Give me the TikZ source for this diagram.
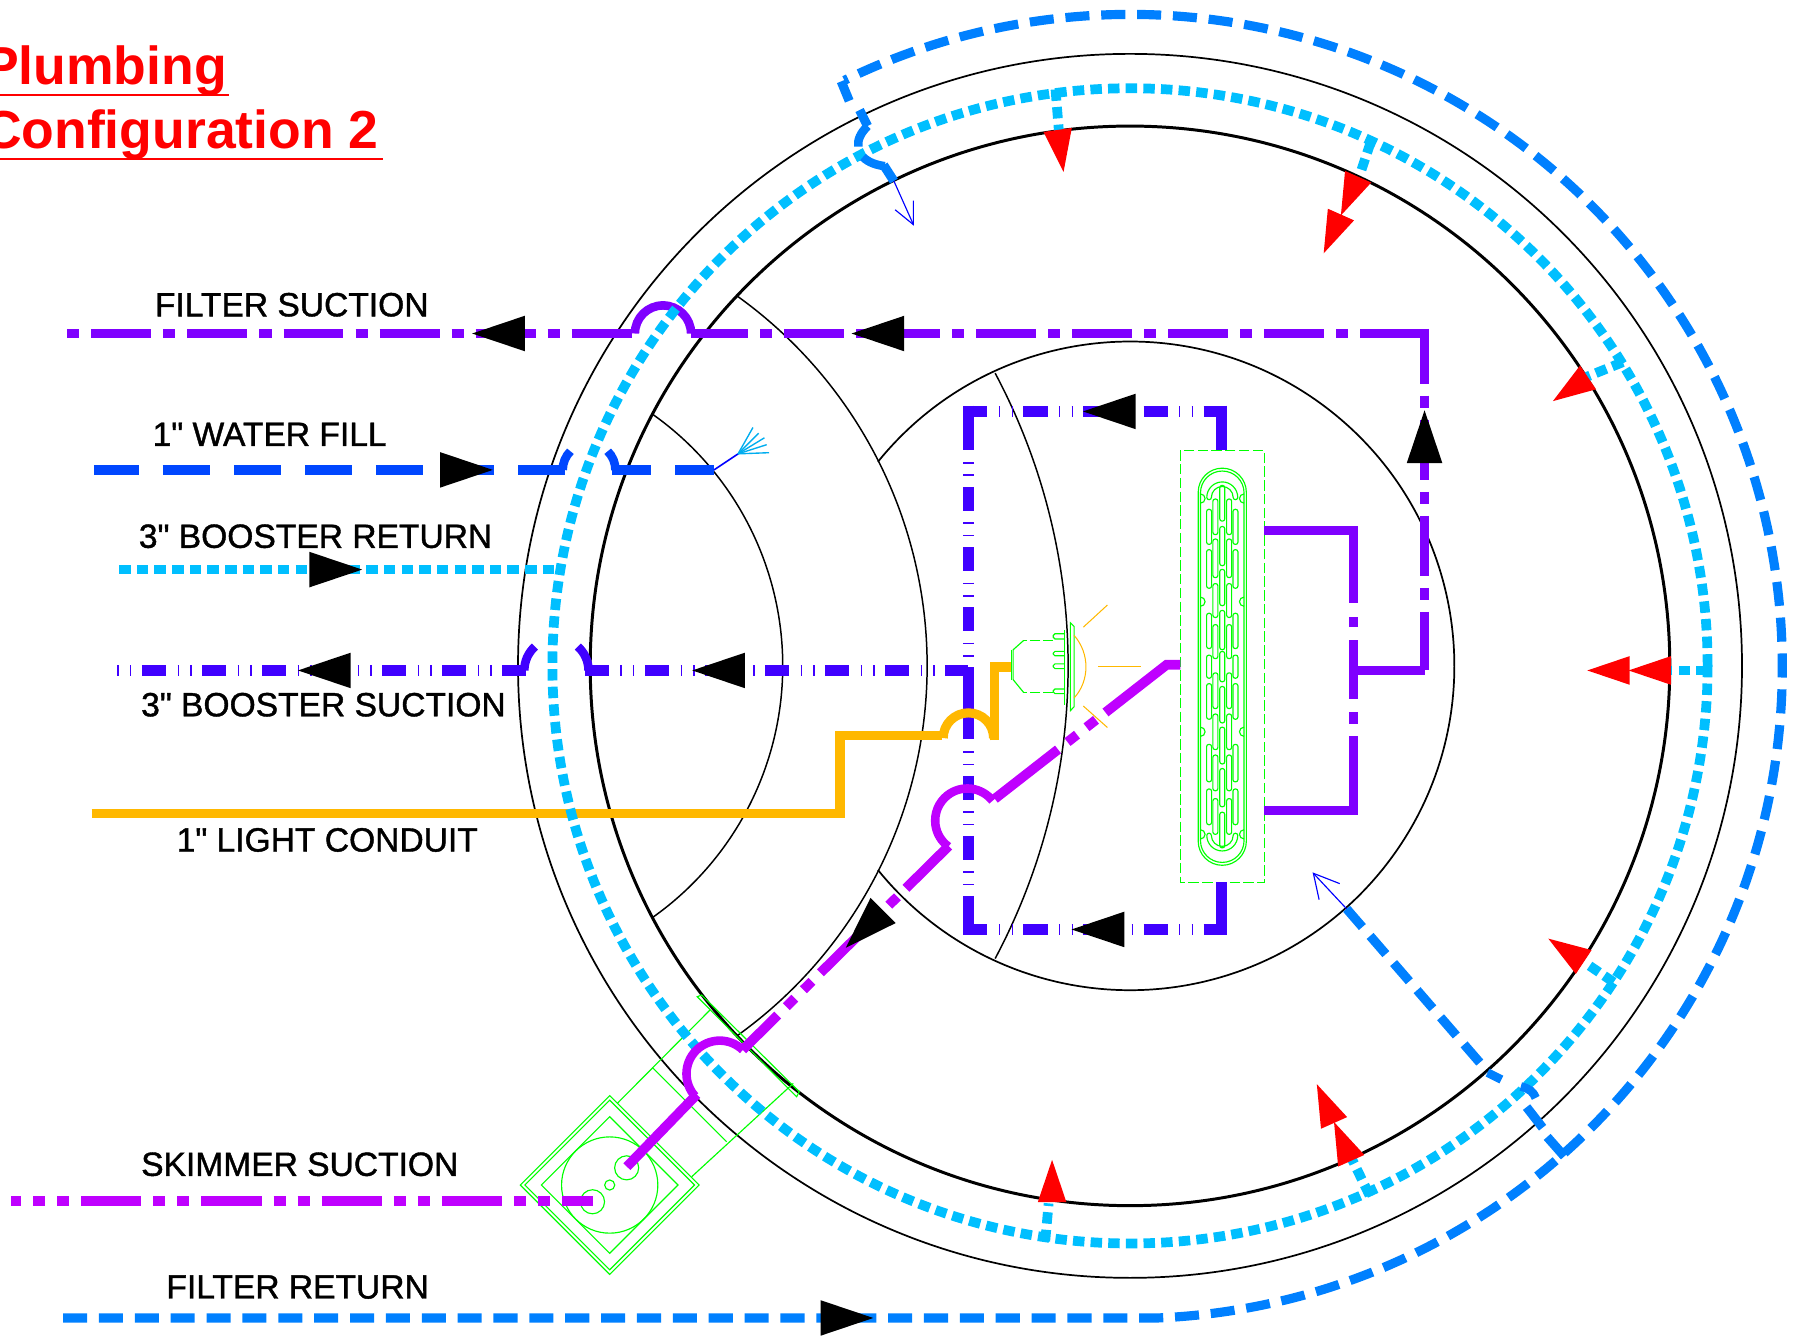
\documentclass[tikz,border=0pt]{standalone}
\usepackage{fontspec}
\setmainfont{Liberation Sans}
\newfontfamily\labelFont[FakeBold=1.2]{Liberation Sans}
\definecolor{filterViolet}{HTML}{7F00FF}
\definecolor{boosterIndigo}{HTML}{4000FF}
\definecolor{skimmerMagenta}{HTML}{BF00FF}
\definecolor{fillBlue}{HTML}{0047FF}
\definecolor{returnBlue}{HTML}{0080FF}
\definecolor{boosterCyan}{HTML}{00BFFF}
\definecolor{conduitAmber}{HTML}{FFB800}
\definecolor{partGreen}{HTML}{00FF00}
\tikzstyle{filterPipe} = [draw=filterViolet, line width=8.2pt]
\tikzstyle{filterDash} = [filterPipe, dash pattern=on 52.3pt off 10.5pt on 10.5pt off 10.5pt]
\tikzstyle{boosterPipe} = [draw=boosterIndigo, line width=10pt]
\tikzstyle{boosterDash} = [boosterPipe, dash pattern=on 21pt off 10pt on 1.2pt off 9.8pt on 1.2pt off 9.2pt]
\tikzstyle{skimmerPipe} = [draw=skimmerMagenta, line width=8.5pt]
\tikzstyle{skimmerDash} = [skimmerPipe, dash pattern=on 52.4pt off 10.5pt on 10.5pt off 10.5pt on 10.5pt off 10.5pt]
\tikzstyle{fillPipe} = [draw=fillBlue, line width=8.3pt]
\tikzstyle{returnPipe} = [draw=returnBlue, line width=8pt]
\tikzstyle{returnDash} = [returnPipe, dash pattern=on 21pt off 10.3pt]
\tikzstyle{ringPipe} = [draw=boosterCyan, line width=8.5pt, dash pattern=on 10pt off 5.4pt]
\tikzstyle{conduitPipe} = [draw=conduitAmber, line width=8pt]
\tikzstyle{jumpLine} = [line width=7.5pt]
\tikzstyle{wallLine} = [draw=black, line width=1.5pt]
\tikzstyle{partLine} = [draw=partGreen, line width=1pt]
\tikzstyle{lampRay} = [draw=conduitAmber, line width=.9pt]
\tikzstyle{thinBlue} = [draw=blue, line width=1pt]
\tikzstyle{pipeLabel} = [text=black, anchor=base west, inner sep=0pt, font=\labelFont\fontsize{29.3}{32}\selectfont]
\tikzstyle{titleText} = [text=red, anchor=base west, inner sep=0pt, font=\bfseries\fontsize{46.7}{50}\selectfont]

\begin{document}
\begin{tikzpicture}[x=1pt, y=-1pt]
	\useasboundingbox (0,0) rectangle (1568,1168);
	\coordinate (Pool) at (986,581);

	% walls
	\draw [wallLine, line width=2.6pt] (Pool) circle [radius=471];
	\draw [wallLine] (Pool) circle [radius=534];
	\draw [wallLine] (Pool) ++(-141:283) arc [start angle=-141, end angle=141, radius=283];
	\draw [wallLine, line width=1.3pt] (412,581) ++(-54.5:397) arc [start angle=-54.5, end angle=54.5, radius=397];
	\draw [wallLine, line width=1.3pt] (414,581) ++(-54.6:269) arc [start angle=-54.6, end angle=54.6, radius=269];
	\draw [wallLine, line width=1.3pt] (388,581) ++(-28:544) arc [start angle=-28, end angle=28, radius=544];

	% title
	\node (TitleOne) at (-15,73.5) [titleText] {Plumbing};
	\node (TitleTwo) at (-15,130) [titleText] {Configuration 2};
	\draw [red, line width=1.6pt] (0,83) -- (200,83);
	\draw [red, line width=1.6pt] (0,139) -- (334,139);

	% labels
	\node (FilterSuction) at (135,276) [pipeLabel] {FILTER SUCTION};
	\node (WaterFill) at (133,389) [pipeLabel] {1" WATER FILL};
	\node (BoosterReturn) at (121,478) [pipeLabel] {3" BOOSTER RETURN};
	\node (BoosterSuction) at (123,625) [pipeLabel] {3" BOOSTER SUCTION};
	\node (LightConduit) at (154,743) [pipeLabel] {1" LIGHT CONDUIT};
	\node (SkimmerSuction) at (123,1026) [pipeLabel] {SKIMMER SUCTION};
	\node (FilterReturn) at (145,1133) [pipeLabel] {FILTER RETURN};

	% main drain
	\draw [partLine, dash pattern=on 9pt off 3pt] (1030,393) rectangle (1103,770);
	\draw [partLine, rounded corners=21pt] (1045.5,408.5) rectangle (1087.5,755);
	\draw [partLine, rounded corners=19pt] (1047.5,411) rectangle (1085.5,752.5);
	\draw [partLine] (1053,434) arc [start angle=180, end angle=360, radius=13.5] arc [start angle=0, end angle=180, radius=2] arc [start angle=360, end angle=180, radius=9.5] arc [start angle=0, end angle=180, radius=2];
	\draw [partLine] (1053,729) arc [start angle=180, end angle=0, radius=13.5] arc [start angle=0, end angle=-180, radius=2] arc [start angle=0, end angle=180, radius=9.5] arc [start angle=0, end angle=-180, radius=2];
	\foreach \y/\z in {423.5/454.7,459.4/493.6,496.8/528.5,532.6/566.9,568.4/594.9,599/630.8,634.5/666.6,670.6/704,708.7/739.8}
		\draw [partLine, rounded corners=2pt] (1064.3,\y) rectangle (1068.7,\z);
	\foreach \x in {1060.5,1072.5}
		\foreach \y/\z in {435.4/466.5,470.3/504,509.2/538.8,545/574.7,587.1/618.3,623/654.1,658.8/690,696.8/728}
			\draw [partLine, rounded corners=2pt] (\x-2.2,\y) rectangle (\x+2.2,\z);
	\foreach \x in {1055,1078}
		\foreach \y/\z in {444.4/475,479.6/513.3,535.1/565.9,571.6/591.8,596.5/627.6,649.5/682.2,688.4/719.6}
			\draw [partLine, rounded corners=2pt] (\x-2.2,\y) rectangle (\x+2.2,\z);
	\foreach \y in {435,525,638.5,728} {
		\draw [partLine] (1047.5,\y-4) arc [start angle=-90, end angle=90, radius=4];
		\draw [partLine] (1085.5,\y-4) arc [start angle=270, end angle=90, radius=4];
	}

	% light
	\draw [partLine, dash pattern=on 9pt off 2.5pt] (919,559) -- (893,559);
	\draw [partLine, dash pattern=on 9pt off 2.5pt] (919,604) -- (893,604);
	\draw [partLine] (893,559) -- (884,567) -- (884,593) -- (893,604);
	\draw [partLine] (882.5,567) -- (882.5,593);
	\draw [partLine] (934,543.5) -- (937.2,546.6) -- (937.2,616.7) -- (934,620) -- cycle;
	\draw [partLine] (929,550) -- (929,615);
	\foreach \y/\z in {553/557.5,568.4/572.2,579.3/583.4,601.2/605.2}
		\draw [partLine, rounded corners=1.5pt] (929,\y) -- (919,\y) -- (919,\z) -- (929,\z);
	\draw [lampRay] (937.2,554.4) .. controls (951,570) and (951,594) .. (937.2,609);
	\draw [lampRay] (945.3,547.2) -- (966.3,527.9);
	\draw [lampRay] (957.9,581.5) -- (995.4,581.5);
	\draw [lampRay] (945.3,616.1) -- (966.3,634.8);

	% skimmer
	\coordinate (Skimmer) at (532,1034);
	\draw [partLine] (532,956) -- (610,1034) -- (532,1112) -- (454,1034) -- cycle;
	\draw [partLine] (532,960) -- (606,1034) -- (532,1108) -- (458,1034) -- cycle;
	\draw [partLine] (532,974.4) -- (591.6,1034) -- (532,1093.6) -- (472.4,1034) -- cycle;
	\draw [partLine] (Skimmer) circle [radius=42];
	\draw [partLine] (Skimmer) circle [radius=4.4];
	\draw [partLine] (546.8,1019) circle [radius=10.5];
	\draw [partLine] (517,1048.6) circle [radius=10.5];
	\draw [partLine] (538.6,962.8) -- (619.5,881.3);
	\draw [partLine] (603.5,1026.8) -- (692.2,945.3);
	\draw [partLine] (569.2,931.4) -- (634,996.2);
	\draw [partLine] (608.4,869.7) -- (612.2,868.2) -- (697.4,952.6) -- (695.1,957) -- cycle;

	% booster suction
	\draw [boosterDash, dash phase=28.5pt] (100,585) -- (459.5,585);
	\draw [boosterDash] (510.4,585) -- (845,585);
	\draw [draw=boosterIndigo, jumpLine] (485.5,585) ++(180:28) arc [start angle=180, end angle=228, radius=28];
	\draw [draw=boosterIndigo, jumpLine] (485.5,585) ++(-48:28) arc [start angle=-48, end angle=0, radius=28];
	\draw [boosterDash, dash phase=4.4pt] (845,359) -- (1066,359);
	\draw [boosterDash, dash phase=4.4pt] (845,811) -- (1066,811);
	\draw [boosterPipe] (1066,354) -- (1066,393);
	\draw [boosterPipe] (1066,770) -- (1066,816);
	\draw [boosterPipe, dash pattern=on 39pt off 10.5pt on 1.2pt off 9pt on 1.2pt off 10pt on 21pt off 10pt on 1.2pt off 9.8pt on 1.2pt off 9.2pt on 21pt off 10pt on 1.2pt off 9.8pt on 1.2pt off 9.2pt on 21pt off 10pt on 1.2pt off 9.8pt on 1.2pt off 9.2pt on 63pt off 10.5pt on 1.2pt off 9.8pt on 1.2pt off 9.2pt on 21pt off 10pt on 1.2pt off 9.8pt on 1.2pt off 9.2pt on 21pt off 10pt on 1.2pt off 9.8pt on 1.2pt off 9.2pt on 40pt off 1pt] (845,354) -- (845,816);

	% water fill
	\draw [fillPipe, dash pattern=on 41pt off 21pt, dash phase=2pt] (82,410) -- (493,410);
	\draw [fillPipe, dash pattern=on 34pt off 21pt] (534.3,410) -- (623,410);
	\draw [draw=fillBlue, jumpLine] (514,410) ++(180:23) arc [start angle=180, end angle=225, radius=23];
	\draw [draw=fillBlue, jumpLine] (514,410) ++(-45:23) arc [start angle=-45, end angle=0, radius=23];
	\draw [thinBlue, line width=1.4pt] (623,410) -- (644,396);
	\foreach \x/\y in {671/395,669/388,667/382,662/378,657/373}
		\draw [cyan, line width=1.2pt] (644,396) -- (\x,\y);

	% filter suction
	\draw [filterDash, dash phase=62.8pt] (58.8,291) -- (555,291);
	\draw [filterDash, dash phase=2.5pt] (603,291) -- (1243,291);
	\draw [draw=filterViolet, jumpLine] (554,291) arc [start angle=180, end angle=360, radius=24.5];
	\draw [filterDash, dash phase=4.5pt] (1243,287) -- (1243,585);
	\draw [filterPipe] (1243,585) -- (1181,585);
	\draw [filterPipe, dash pattern=on 63pt off 12.5pt on 9pt off 11pt on 51.5pt off 11.5pt on 10pt off 11pt on 64pt] (1181,463) -- (1181,707);
	\draw [filterPipe] (1103,463) -- (1185,463);
	\draw [filterPipe] (1103,707) -- (1185,707);

	% light conduit
	\draw [conduitPipe] (80,710) -- (733,710) -- (733,642) -- (822,642);
	\draw [conduitPipe] (823,644) arc [start angle=180, end angle=360, radius=22];
	\draw [conduitPipe] (868,646) -- (868,582) -- (882,582);

	% booster return and ring
	\draw [ringPipe] (104,497) -- (490,497);
	\draw [ringPipe] (Pool) circle [radius=504];
	\foreach \a/\b/\c/\d in {921/78/924/115, 1196/124/1187/151, 1416/316/1384/329, 1490/585/1458/585, 1408/857/1383/840, 1195/1043/1180/1012, 912/1083/915/1050}
		\draw [ringPipe] (\a,\b) -- (\c,\d);

	% filter return
	\draw [returnDash] (55,1150) -- (1010,1150) arc [start angle=87.6, end angle=-116, radius=569];
	\draw [returnPipe] (734,71) -- (741,88);
	\draw [returnPipe] (750,96) -- (757,110);
	\draw [draw=returnBlue, jumpLine] (757,110) .. controls (751,116) and (748,122) .. (749,128);
	\draw [draw=returnBlue, jumpLine] (753,137) .. controls (758,142) and (765,144) .. (772,145);
	\draw [returnPipe] (771,144) -- (780,158);
	\draw [thinBlue] (780,158) -- (797,196);
	\draw [thinBlue] (781,183) -- (797,196) -- (797,175);
	\draw [returnDash] (1175,793) -- (1298,935);
	\draw [draw=returnBlue, jumpLine] (1298,936) -- (1310,942);
	\draw [draw=returnBlue, jumpLine] (1327,948) .. controls (1335,950) and (1338,953) .. (1340,958);
	\draw [returnPipe] (1332,966) -- (1346,984);
	\draw [returnPipe] (1350,992) -- (1365,1009);
	\draw [thinBlue] (1175,793) -- (1146,762);
	\draw [thinBlue] (1151,785) -- (1146,762) -- (1169,771);

	% skimmer suction
	\draw [skimmerDash, dash phase=44pt] (10,1048) -- (517,1048);
	\draw [skimmerPipe, dash pattern=on 70pt off 10.5pt on 10.5pt off 10.5pt on 10.5pt off 10.5pt on 100pt off 1pt] (868,697) -- (1018,580) -- (1030,580);
	\draw [draw=skimmerMagenta, jumpLine] (844,716) ++(-38:28) arc [start angle=-38, end angle=-234, radius=28];
	\draw [skimmerDash, dash phase=9.4pt] (648,916) -- (828,738);
	\draw [draw=skimmerMagenta, jumpLine] (628,937) ++(-46:29) arc [start angle=-46, end angle=-222, radius=29];
	\draw [skimmerPipe] (608,955) -- (547,1018);

	% flow arrows
	\foreach \x/\y/\r in {412/291/180,743/291/180,430/410/0,316/497/0,260/585/180,604/585/180,945/359/180,935/811/180,1243/358/90,738/827/225,762/1150/0}
		\fill [black, shift={(\x,\y)}, rotate=\r] (0,0) -- (-46,-15.5) -- (-46,15.5) -- cycle;
	\foreach \x/\y/\r in {928/150/-82,1170/188/-114,1155/221/-114,1355/350/-146,1421/585/180,1385/585/180,1351/819/146.5,1164/979/114,1149/946/114,918/1012/90}
		\fill [red, shift={(\x,\y)}, rotate=\r] (0,0) -- (-37,-12.5) -- (-37,12.5) -- cycle;
\end{tikzpicture}
\end{document}
